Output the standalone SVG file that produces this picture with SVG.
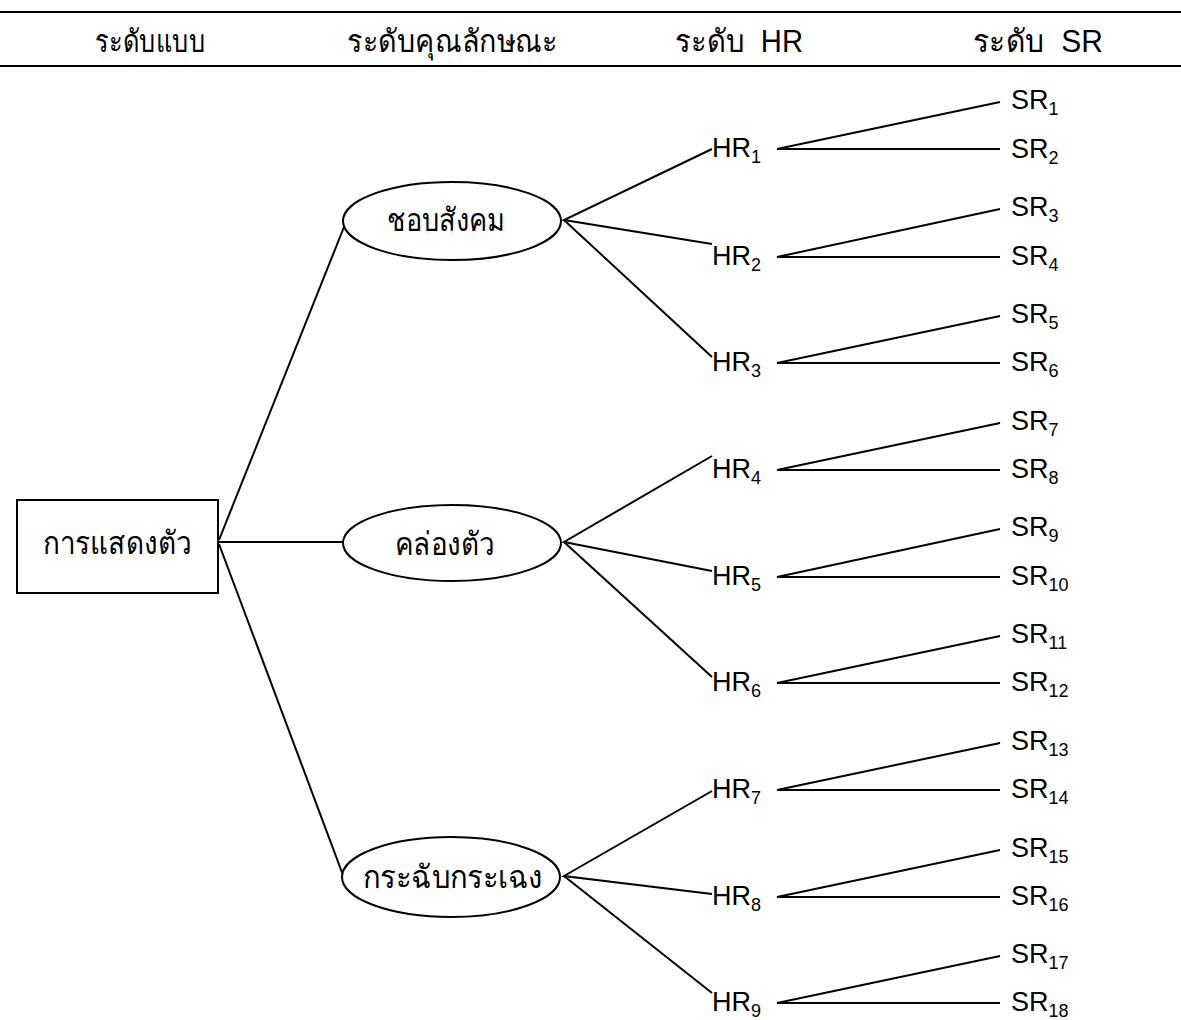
<svg xmlns="http://www.w3.org/2000/svg" width="1181" height="1020" viewBox="0 0 1181 1020">
<style>
text{font-family:"Liberation Sans","Noto Sans",sans-serif;fill:#000}
.h{font-size:31px}
.n{font-size:32px}
.l{font-size:27px}
.sub{font-size:18px}
.c{stroke:#000;stroke-width:2;fill:none}
.s{stroke:#000;stroke-width:2;fill:#fff}
</style>
<rect width="1181" height="1020" fill="#fff"/>
<g id="header">
<line class="c" x1="0" y1="12" x2="1181" y2="12"/>
<line class="c" x1="0" y1="66" x2="1181" y2="66"/>
<text class="h" x="95" y="52" textLength="110" lengthAdjust="spacingAndGlyphs">ระดับแบบ</text>
<text class="h" x="347" y="52" textLength="211" lengthAdjust="spacingAndGlyphs">ระดับคุณลักษณะ</text>
<text class="h" x="675" y="52" textLength="128" lengthAdjust="spacingAndGlyphs" xml:space="preserve">ระดับ  HR</text>
<text class="h" x="973" y="52" textLength="130" lengthAdjust="spacingAndGlyphs" xml:space="preserve">ระดับ  SR</text>
</g>
<g id="connectors">
<line class="c" x1="219" y1="540" x2="344" y2="227"/>
<line class="c" x1="219" y1="542" x2="343" y2="542"/>
<line class="c" x1="219" y1="544" x2="343" y2="875"/>
<polyline class="c" points="712,149 564,220 712,244"/>
<line class="c" x1="564" y1="220" x2="712" y2="357"/>
<polyline class="c" points="712,456 564,542 712,571"/>
<line class="c" x1="564" y1="542" x2="712" y2="677"/>
<polyline class="c" points="712,791 564,876 712,894"/>
<line class="c" x1="564" y1="876" x2="712" y2="993"/>
<g id="sr-lines">
<polyline class="c" points="1000,102 777,149 1000,149"/>
<polyline class="c" points="1000,209 777,257 1000,257"/>
<polyline class="c" points="1000,316 777,363 1000,363"/>
<polyline class="c" points="1000,423 777,470 1000,470"/>
<polyline class="c" points="1000,529 777,577 1000,577"/>
<polyline class="c" points="1000,636 777,683 1000,683"/>
<polyline class="c" points="1000,743 777,790 1000,790"/>
<polyline class="c" points="1000,850 777,897 1000,897"/>
<polyline class="c" points="1000,956 777,1003 1000,1003"/>
</g>
</g>
<g id="root">
<rect class="s" x="17" y="500" width="201" height="93"/>
<text class="n" x="43" y="554" textLength="149" lengthAdjust="spacingAndGlyphs">การแสดงตัว</text>
</g>
<g id="attr1">
<ellipse class="s" cx="452" cy="221" rx="109" ry="39"/>
<text class="n" x="387" y="231" textLength="118" lengthAdjust="spacingAndGlyphs">ชอบสังคม</text>
</g>
<g id="attr2">
<ellipse class="s" cx="452" cy="543" rx="109" ry="38"/>
<text class="n" x="395" y="555" textLength="100" lengthAdjust="spacingAndGlyphs">คล่องตัว</text>
</g>
<g id="attr3">
<ellipse class="s" cx="451" cy="877" rx="109" ry="40"/>
<text class="n" x="363" y="888" textLength="180" lengthAdjust="spacingAndGlyphs">กระฉับกระเฉง</text>
</g>
<g id="hr">
<text class="l" x="712" y="157">HR<tspan class="sub" dy="6">1</tspan></text>
<text class="l" x="712" y="265">HR<tspan class="sub" dy="6">2</tspan></text>
<text class="l" x="712" y="371">HR<tspan class="sub" dy="6">3</tspan></text>
<text class="l" x="712" y="478">HR<tspan class="sub" dy="6">4</tspan></text>
<text class="l" x="712" y="585">HR<tspan class="sub" dy="6">5</tspan></text>
<text class="l" x="712" y="691">HR<tspan class="sub" dy="6">6</tspan></text>
<text class="l" x="712" y="798">HR<tspan class="sub" dy="6">7</tspan></text>
<text class="l" x="712" y="905">HR<tspan class="sub" dy="6">8</tspan></text>
<text class="l" x="712" y="1011">HR<tspan class="sub" dy="6">9</tspan></text>
</g>
<g id="sr">
<text class="l" x="1011" y="109">SR<tspan class="sub" dy="6">1</tspan></text>
<text class="l" x="1011" y="158">SR<tspan class="sub" dy="6">2</tspan></text>
<text class="l" x="1011" y="216">SR<tspan class="sub" dy="6">3</tspan></text>
<text class="l" x="1011" y="265">SR<tspan class="sub" dy="6">4</tspan></text>
<text class="l" x="1011" y="323">SR<tspan class="sub" dy="6">5</tspan></text>
<text class="l" x="1011" y="371">SR<tspan class="sub" dy="6">6</tspan></text>
<text class="l" x="1011" y="430">SR<tspan class="sub" dy="6">7</tspan></text>
<text class="l" x="1011" y="478">SR<tspan class="sub" dy="6">8</tspan></text>
<text class="l" x="1011" y="536">SR<tspan class="sub" dy="6">9</tspan></text>
<text class="l" x="1011" y="585">SR<tspan class="sub" dy="6">10</tspan></text>
<text class="l" x="1011" y="643">SR<tspan class="sub" dy="6">11</tspan></text>
<text class="l" x="1011" y="691">SR<tspan class="sub" dy="6">12</tspan></text>
<text class="l" x="1011" y="750">SR<tspan class="sub" dy="6">13</tspan></text>
<text class="l" x="1011" y="798">SR<tspan class="sub" dy="6">14</tspan></text>
<text class="l" x="1011" y="857">SR<tspan class="sub" dy="6">15</tspan></text>
<text class="l" x="1011" y="905">SR<tspan class="sub" dy="6">16</tspan></text>
<text class="l" x="1011" y="963">SR<tspan class="sub" dy="6">17</tspan></text>
<text class="l" x="1011" y="1011">SR<tspan class="sub" dy="6">18</tspan></text>
</g>
</svg>
